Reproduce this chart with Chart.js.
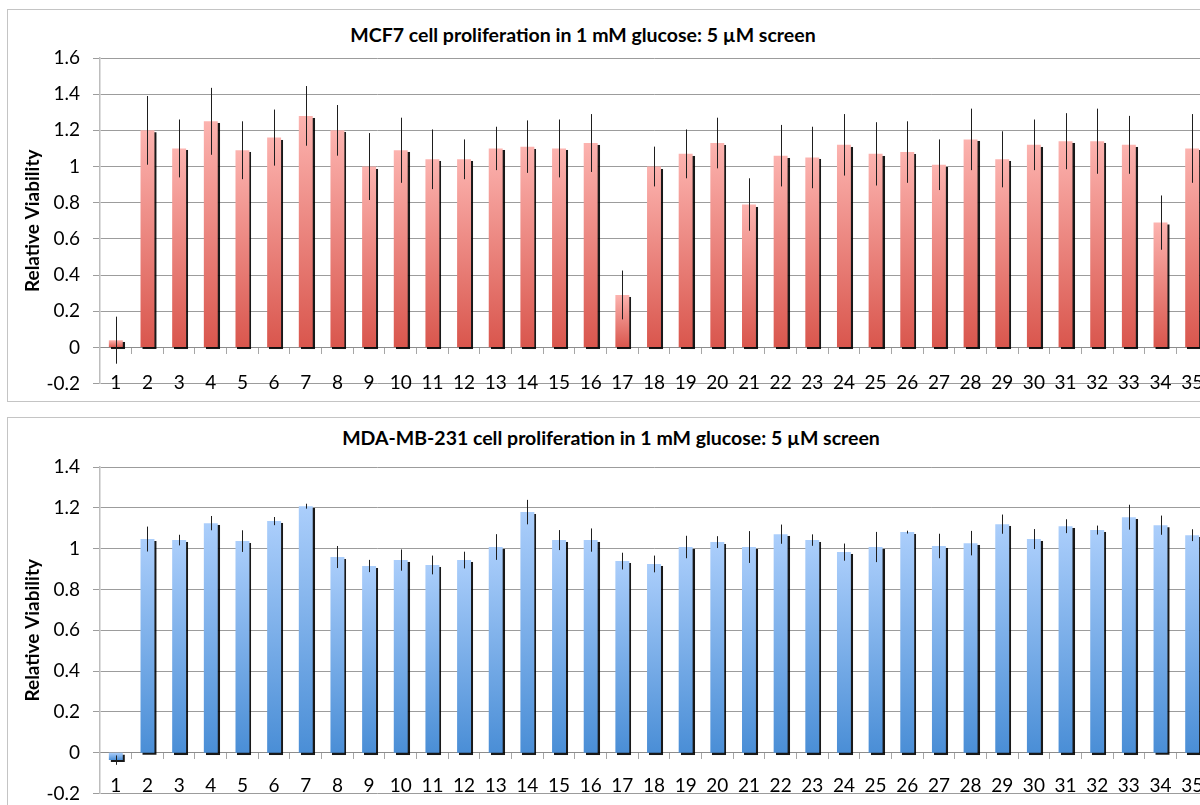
<!DOCTYPE html>
<html>
<head>
<meta charset="utf-8">
<script src="https://cdn.jsdelivr.net/npm/chart.js@4.4.1/dist/chart.umd.min.js"></script>
<style>
  html, body { margin: 0; padding: 0; background: #fff; overflow: hidden; width: 1200px; height: 805px; }
  .panel { position: absolute; left: 7px; width: 1240px; border: 1px solid #c4c4c4; background: #fff; }
  .panel canvas { position: absolute; left: 0; top: 0; }
  .title { position: absolute; left: 0; text-align: center; font: bold 19.5px Lato, sans-serif; line-height: 24px; color: #000; }
</style>
</head>
<body>
<div class="panel" id="p1" style="top:9px;height:391px;">
  <div class="title" style="top:13px;width:1150px;">MCF7 cell proliferation in 1 mM glucose: 5 µM screen</div>
  <canvas id="mcf7" width="1220" height="398"></canvas>
</div>
<div class="panel" id="p2" style="top:417px;height:400px;">
  <div class="title" style="top:8px;width:1206px;">MDA-MB-231 cell proliferation in 1 mM glucose: 5 µM screen</div>
  <canvas id="mda" width="1220" height="400"></canvas>
</div>
<script>
var compounds = ['1', '2', '3', '4', '5', '6', '7', '8', '9', '10',
    '11', '12', '13', '14', '15', '16', '17', '18', '19', '20',
    '21', '22', '23', '24', '25', '26', '27', '28', '29', '30',
    '31', '32', '33', '34', '35'];

// MCF7, 1 mM glucose
var mcf7Values = [0.04, 1.20, 1.10, 1.25, 1.09, 1.16, 1.28, 1.20, 1.00, 1.09,
    1.04, 1.04, 1.10, 1.11, 1.10, 1.13, 0.29, 1.00, 1.07, 1.13,
    0.79, 1.06, 1.05, 1.12, 1.07, 1.08, 1.01, 1.15, 1.04, 1.12,
    1.14, 1.14, 1.12, 0.69, 1.10];
var mcf7Errors = [0.13, 0.19, 0.16, 0.185, 0.16, 0.155, 0.165, 0.14, 0.185, 0.18,
    0.165, 0.11, 0.12, 0.145, 0.16, 0.16, 0.135, 0.11, 0.135, 0.14,
    0.145, 0.17, 0.17, 0.17, 0.175, 0.17, 0.14, 0.17, 0.155, 0.14,
    0.155, 0.18, 0.16, 0.15, 0.19];

// MDA-MB-231, 1 mM glucose
var mdaValues = [-0.036, 1.047, 1.042, 1.125, 1.037, 1.135, 1.208, 0.959, 0.915, 0.944,
    0.920, 0.944, 1.008, 1.179, 1.042, 1.042, 0.939, 0.925, 1.008, 1.032,
    1.008, 1.071, 1.042, 0.983, 1.008, 1.081, 1.013, 1.027, 1.120, 1.047,
    1.110, 1.091, 1.154, 1.115, 1.066];
var mdaErrors = [0.023, 0.061, 0.026, 0.035, 0.053, 0.02, 0.012, 0.054, 0.03, 0.052,
    0.046, 0.041, 0.063, 0.06, 0.049, 0.057, 0.041, 0.041, 0.055, 0.029,
    0.078, 0.047, 0.028, 0.042, 0.074, 0.007, 0.06, 0.06, 0.047, 0.049,
    0.034, 0.022, 0.061, 0.047, 0.029];

var mcf7Ticks = { min: -0.2, max: 1.6 };
var mdaTicks = { min: -0.2, max: 1.4 };

var fontName = 'Lato, sans-serif';

// shadow under the bars + error bars on top
var barExtras = {
    id: 'barExtras',
    beforeDatasetsDraw: function(chart) {
        var c = chart.ctx;
        c.save();
        c.shadowColor = 'rgba(0,0,0,0.9)';
        c.shadowOffsetX = 2;
        c.shadowOffsetY = 2;
        c.shadowBlur = 0.5;
    },
    afterDatasetsDraw: function(chart) {
        var c = chart.ctx;
        c.restore();
        var errs = chart.options.plugins.barExtras.errors;
        var meta = chart.getDatasetMeta(0);
        var yScale = chart.scales.y;
        var vals = chart.data.datasets[0].data;
        c.save();
        c.strokeStyle = '#1e1e1e';
        c.lineWidth = 1;
        meta.data.forEach(function(bar, i) {
            var x = Math.round(bar.x) + 0.5;
            c.beginPath();
            c.moveTo(x, yScale.getPixelForValue(vals[i] + errs[i]));
            c.lineTo(x, yScale.getPixelForValue(vals[i] - errs[i]));
            c.stroke();
        });
        c.restore();
    }
};

function drawChart(canvasId, values, errors, range, topColor, bottomColor, pad) {
    new Chart(document.getElementById(canvasId), {
        type: 'bar',
        data: {
            labels: compounds,
            datasets: [{
                data: values,
                backgroundColor: function(ctx) {
                    var chart = ctx.chart;
                    if (!chart.chartArea || ctx.type !== 'data') return topColor;
                    var y = chart.scales.y;
                    var y1 = y.getPixelForValue(ctx.raw);
                    var y0 = y.getPixelForValue(0);
                    var g = chart.ctx.createLinearGradient(0, Math.min(y0, y1), 0, Math.max(y0, y1));
                    g.addColorStop(0, topColor);
                    g.addColorStop(1, bottomColor);
                    return g;
                },
                borderWidth: 0,
                categoryPercentage: 1,
                barPercentage: 0.44
            }]
        },
        options: {
            responsive: false,
            animation: false,
            layout: { padding: { left: 0, right: 20, top: pad.top, bottom: pad.bottom } },
            plugins: {
                legend: { display: false },
                tooltip: { enabled: false },
                barExtras: { errors: errors }
            },
            scales: {
                x: {
                    position: { y: 0 },
                    afterFit: function(s) { s.height = 0; },
                    grid: { offset: true, drawOnChartArea: false, drawTicks: true, tickLength: 6, color: '#a6a6a6' },
                    border: { display: true, color: '#8c8c8c', width: 1 },
                    ticks: { padding: pad.label, color: '#000', autoSkip: false, maxRotation: 0, font: { family: fontName, size: 19 } }
                },
                y: {
                    min: range.min,
                    max: range.max,
                    afterFit: function(s) { s.width = 92; },
                    grid: { color: '#9c9c9c', tickLength: 7 },
                    border: { color: '#bdbdbd', width: 1.5 },
                    ticks: {
                        stepSize: 0.2,
                        padding: 13,
                        color: '#000',
                        font: { family: fontName, size: 19 },
                        callback: function(v) { return String(+v.toFixed(1)); }
                    },
                    title: {
                        display: true,
                        text: 'Relative Viability',
                        color: '#000',
                        padding: { top: 13, bottom: 0 },
                        font: { family: fontName, size: 19, weight: 'bold' }
                    }
                }
            }
        },
        plugins: [barExtras]
    });
}

drawChart('mcf7', mcf7Values, mcf7Errors, mcf7Ticks, '#fcb3af', '#d9564d', { top: 48, bottom: 0, label: 18 });
drawChart('mda', mdaValues, mdaErrors, mdaTicks, '#abcefb', '#4a8ed6', { top: 49, bottom: 0, label: 16 });
</script>
</body>
</html>
